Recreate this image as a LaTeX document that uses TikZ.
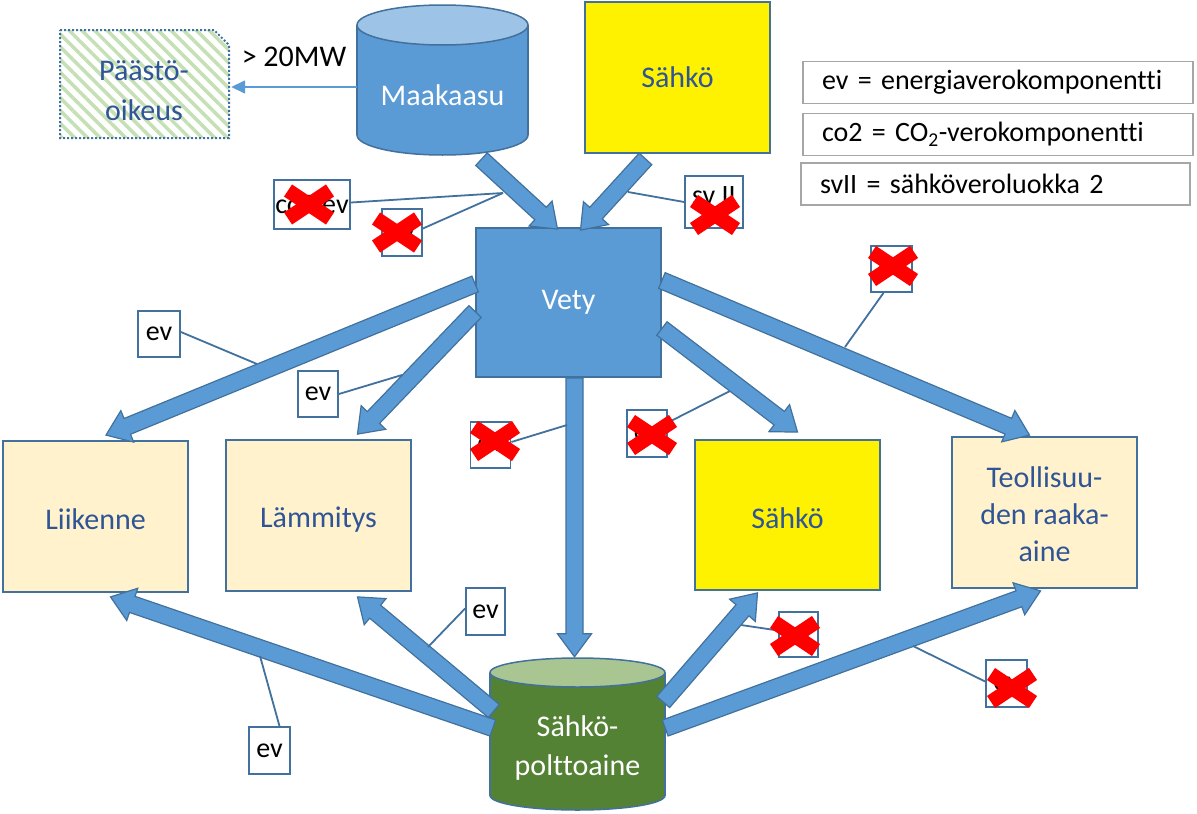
\documentclass[tikz,border=0pt]{standalone}
\usepackage{fontspec}
\setmainfont{Carlito}[Ligatures=NoCommon]
\usetikzlibrary{calc,patterns.meta,arrows.meta}
\definecolor{blfill}{HTML}{5B9BD5}
\definecolor{bledge}{HTML}{41719C}
\definecolor{bltop}{HTML}{9DC3E6}
\definecolor{txtblue}{HTML}{2F5597}
\definecolor{cream}{HTML}{FFF2CC}
\definecolor{grfill}{HTML}{548235}
\definecolor{grtop}{HTML}{A9C591}
\definecolor{stripe}{HTML}{C5E0B4}
\definecolor{legedge}{HTML}{A6A6A6}
\newcommand{\blockarrow}[2]{%
  \path ($(#2)!23pt!(#1)$) coordinate (bah);
  \draw[barrow] ($(#1)!8.5pt!90:(#2)$) -- ($(bah)!8.5pt!-90:(#1)$) -- ($(bah)!17pt!-90:(#1)$) -- (#2) -- ($(bah)!17pt!90:(#1)$) -- ($(bah)!8.5pt!90:(#1)$) -- ($(#1)!8.5pt!-90:(#2)$) -- cycle;}
\newcommand{\redx}[1]{%
  \draw[redbar] ($(#1)+(-21,-14)$) -- ($(#1)+(21,14)$);
  \draw[redbar] ($(#1)+(-21,14)$) -- ($(#1)+(21,-14)$);}
\tikzset{
  barrow/.style={fill=blfill, draw=bledge, line width=1.2pt, line join=miter},
  lbl/.style={draw=bledge, line width=1.8pt, fill=white, inner sep=0pt, minimum width=40pt, minimum height=46pt, font=\fontsize{28}{30}\selectfont, text=black},
  callout/.style={draw=bledge, line width=1.8pt},
  redbar/.style={draw=red, line width=14.5pt},
  box/.style={draw=bledge, line width=1.8pt, minimum width=185pt, minimum height=150pt, inner sep=0pt, align=center, font=\fontsize{30}{37}\selectfont, text=txtblue},
  legend/.style={draw=legedge, line width=1.8pt, minimum height=42pt, text width=352pt, inner xsep=19pt, align=left, font=\fontsize{28}{30}\selectfont},
  cylline/.style={draw=bledge, line width=1.5pt},
  bigtext/.style={font=\fontsize{30}{37}\selectfont, align=center},
}
\begin{document}
\begin{tikzpicture}[x=1pt,y=-1pt]
\fill[white] (0,0) rectangle (1197,814);
\useasboundingbox (0,0) rectangle (1197,814);

% Maakaasu cylinder
\draw[cylline, fill=blfill] (442.5,135) ellipse (85.5 and 20);
\fill[blfill] (357,25) rectangle (528,135);
\draw[cylline] (357,25) -- (357,135) (528,25) -- (528,135);
\draw[cylline, fill=bltop] (442.5,25) ellipse (85.5 and 20);
\node[inner sep=0pt, minimum width=171pt, minimum height=150pt] (maak) at (442.5,80) {};
\node[bigtext, text=white] (maaktxt) at ($(maak.center)+(0,15)$) {Maakaasu};

% Sähköpolttoaine cylinder
\draw[cylline, fill=grfill] (577.5,795.5) ellipse (87.5 and 14.5);
\fill[grfill] (490,672.5) rectangle (665,795.5);
\draw[cylline] (490,672.5) -- (490,795.5) (665,672.5) -- (665,795.5);
\draw[cylline, fill=grtop] (577.5,672.5) ellipse (87.5 and 14.5);
\node[inner sep=0pt, minimum width=175pt, minimum height=152pt] (pol) at (577.5,734) {};
\node[font=\fontsize{30}{39}\selectfont, align=center, text=white] (poltxt) at ($(pol.center)+(0,14)$) {Sähkö-\\polttoaine};

% Päästöoikeus
\path[pattern={Lines[angle=-45, distance=9pt, line width=3.5pt]}, pattern color=stripe] (60,30) -- (214,30) -- (229,45) -- (229,138) -- (60,138) -- cycle;
\draw[draw=bledge, line width=2pt, dash pattern=on 2pt off 2pt] (60,30) -- (214,30) -- (229,45) -- (229,138) -- (60,138) -- cycle;
\node[inner sep=0pt, minimum width=169pt, minimum height=108pt] (paas) at (144.5,84) {};
\node[font=\fontsize{30}{40}\selectfont, align=center, text=txtblue] (paastxt) at (144,91) {Päästö-\\oikeus};
\node[bigtext, text=black] (mw) at (294,57) {> 20MW};
\draw[draw=blfill, line width=1.5pt, -{Triangle[length=14pt,width=13pt]}] ($(maak.west)+(0,7)$) -- ($(paas.east)+(2,3)$);

% boxes
\node[box, fill=yellow, minimum height=151pt] (sahko1) at (677.5,77.5) {Sähkö};
\node[box, fill=blfill, text=white, minimum height=149pt] (vety) at (568.5,302.5) {Vety};
\node[box, fill=cream, minimum height=151pt, text height=27pt] (liik) at (95.5,516.5) {Liikenne};
\node[box, fill=cream, minimum height=151pt, text height=29pt] (lamm) at (318.5,515.5) {Lämmitys};
\node[box, fill=yellow, text height=27pt] (sahko2) at (787.5,515) {Sähkö};
\node[box, fill=cream, minimum height=151pt] (teol) at (1044.5,512.5) {};
\node[bigtext, text=txtblue] (teoltxt) at ($(teol.center)+(0,2)$) {Teollisuu-\\den raaka-\\aine};

% legend
\node[legend] (leg1) at (998,82.5) {ev = energiaverokomponentti};
\node[legend] (leg2) at (998,134.5) {co2 = CO\textsubscript{2}-verokomponentti};
\node[legend, text width=351pt] (leg3) at (995.5,184) {svII = sähköveroluokka 2};

% block arrows
\coordinate (a1s) at ($(maak.south)+(39,4)$);
\coordinate (a1e) at ($(vety.north)+(-11,2)$);
\coordinate (a2s) at ($(sahko1.south)+(-32,5)$);
\coordinate (a2e) at ($(vety.north)+(12,3)$);
\coordinate (a3s) at ($(vety.west)+(0,-18.5)$);
\coordinate (a3e) at ($(liik.north)+(10.5,-5)$);
\coordinate (a4s) at ($(vety.west)+(0,9)$);
\coordinate (a4e) at ($(lamm.north)+(39,-5)$);
\coordinate (a5s) at ($(vety.east)+(0,26)$);
\coordinate (a5e) at ($(sahko2.north)+(10,-7)$);
\coordinate (a6s) at ($(vety.east)+(0,-22)$);
\coordinate (a6e) at ($(teol.north)+(-15,-1)$);
\coordinate (a7s) at ($(vety.south)+(6,0)$);
\coordinate (a7e) at ($(pol.north)+(-3,-1)$);
\coordinate (a8s) at ($(pol.west)+(3,-6)$);
\coordinate (a8e) at ($(liik.south)+(15,4)$);
\coordinate (a9s) at ($(pol.west)+(4,-23)$);
\coordinate (a9e) at ($(lamm.south)+(39,5)$);
\coordinate (a10s) at ($(pol.east)+(-2,-32)$);
\coordinate (a10e) at ($(sahko2.south)+(-30,2)$);
\coordinate (a11s) at ($(pol.east)+(0,-6)$);
\coordinate (a11e) at ($(teol.south)+(-4,2)$);
\blockarrow{a1s}{a1e}
\blockarrow{a2s}{a2e}
\blockarrow{a3s}{a3e}
\blockarrow{a4s}{a4e}
\blockarrow{a5s}{a5e}
\blockarrow{a6s}{a6e}
\blockarrow{a7s}{a7e}
\blockarrow{a8s}{a8e}
\blockarrow{a9s}{a9e}
\blockarrow{a10s}{a10e}
\blockarrow{a11s}{a11e}

% label boxes
\node[lbl, minimum width=76pt, minimum height=49pt] (lA) at (312,204.5) {co2 ev};
\node[lbl, minimum height=47pt] (lB) at (402,232.5) {ev};
\node[lbl, minimum width=58pt, minimum height=52pt, text depth=12pt] (lC) at (714,202) {sv II};
\node[lbl, minimum width=42pt] (lD) at (159,334) {ev};
\node[lbl] (lE) at (318,394) {ev};
\node[lbl, minimum width=41pt] (lF) at (891.5,269) {ev};
\node[lbl] (lG) at (490.5,445) {ev};
\node[lbl, minimum height=47pt] (lH) at (647,433.5) {ev};
\node[lbl, minimum width=39pt, minimum height=47pt] (lI) at (485.5,611.5) {ev};
\node[lbl, minimum width=41pt, minimum height=47pt] (lJ) at (269.5,750.5) {ev};
\node[lbl, minimum width=39pt, minimum height=45pt] (lK) at (798.5,634.5) {ev};
\node[lbl, minimum width=41pt, minimum height=47pt] (lL) at (1006.5,683.5) {ev};

% callouts
\coordinate (cA) at (503,193);
\coordinate (cC) at (628,192);
\coordinate (cD) at (257,364);
\coordinate (cE) at (402,375);
\coordinate (cF) at (845,347);
\coordinate (cG) at (567,425);
\coordinate (cH) at (730,391);
\coordinate (cI) at (428,647);
\coordinate (cJ) at (260,656);
\coordinate (cK) at (741,625);
\coordinate (cL) at (913,646);
\draw[callout] ($(lA.east)+(0,-2)$) -- (cA);
\draw[callout] ($(lB.east)+(0,-4)$) -- (cA);
\draw[callout] (lC.west) -- (cC);
\draw[callout] ($(lD.east)+(0,-2)$) -- (cD);
\draw[callout] (lE.east) -- (cE);
\draw[callout] ($(lF.south)+(-8,0)$) -- (cF);
\draw[callout] ($(lG.east)+(0,-3)$) -- (cG);
\draw[callout] ($(lH.east)+(0,-11)$) -- (cH);
\draw[callout] ($(lI.west)+(0,-3)$) -- (cI);
\draw[callout] ($(lJ.north)+(10,0)$) -- (cJ);
\draw[callout] ($(lK.west)+(0,-4)$) -- (cK);
\draw[callout] ($(lL.west)+(0,-2)$) -- (cL);

% red crosses
\redx{$(lA.center)+(-3,0)$}
\redx{$(lB.center)+(-5,0)$}
\redx{$(lC.center)+(1,13)$}
\redx{$(lF.center)+(1.5,-3)$}
\redx{$(lG.center)+(4.5,-4)$}
\redx{$(lH.center)+(5,1.5)$}
\redx{$(lK.center)+(-3.5,1.5)$}
\redx{$(lL.center)+(5.5,4.5)$}
\end{tikzpicture}
\end{document}
